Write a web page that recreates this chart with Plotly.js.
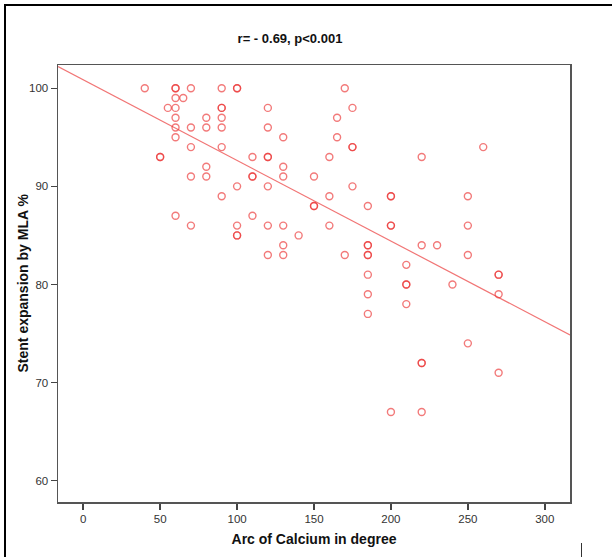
<!DOCTYPE html>
<html>
<head>
<meta charset="utf-8">
<script src="https://cdn.plot.ly/plotly-3.0.1.min.js"></script>
<style>
  html, body { margin: 0; padding: 0; background: #fff; }
  #wrap { position: relative; width: 612px; height: 557px; overflow: hidden; }
  #chart { position: absolute; left: 0; top: 0; width: 612px; height: 557px; }
  .bl { position: absolute; background: #000; }
</style>
</head>
<body>
<div id="wrap">
  <div id="chart"></div>
  <div class="bl" style="left:4px; top:4px; width:2px; height:553px;"></div>
  <div class="bl" style="left:4px; top:4px; width:608px; height:2px;"></div>
  <div class="bl" style="left:581px; top:543px; width:1px; height:14px; background:#333;"></div>
</div>
<script>
// Arc of calcium (degrees) and stent expansion by MLA (%) for each lesion
const arcCalcium = [
  40, 60, 60, 70, 90, 100, 100, 170,
  60, 65,
  55, 60, 90, 90, 120, 175,
  60, 80, 90, 165,
  60, 70, 80, 90, 120,
  60, 130, 165,
  70, 90, 175, 175, 260,
  50, 50, 110, 120, 120, 160, 220,
  80, 130,
  70, 80, 110, 110, 130, 150,
  100, 120, 175,
  90, 160, 200, 200, 250,
  150, 150, 185,
  60, 110,
  70, 100, 120, 130, 160, 200, 200, 250,
  100, 100, 140,
  130, 185, 185, 220, 230,
  120, 130, 170, 185, 185, 250,
  210,
  185, 270, 270,
  210, 210, 240,
  185, 270,
  210,
  185,
  250,
  220, 220,
  270,
  200, 220
];
const stentExpansion = [
  100, 100, 100, 100, 100, 100, 100, 100,
  99, 99,
  98, 98, 98, 98, 98, 98,
  97, 97, 97, 97,
  96, 96, 96, 96, 96,
  95, 95, 95,
  94, 94, 94, 94, 94,
  93, 93, 93, 93, 93, 93, 93,
  92, 92,
  91, 91, 91, 91, 91, 91,
  90, 90, 90,
  89, 89, 89, 89, 89,
  88, 88, 88,
  87, 87,
  86, 86, 86, 86, 86, 86, 86, 86,
  85, 85, 85,
  84, 84, 84, 84, 84,
  83, 83, 83, 83, 83, 83,
  82,
  81, 81, 81,
  80, 80, 80,
  79, 79,
  78,
  77,
  74,
  72, 72,
  71,
  67, 67
];
const xTicks = [0, 50, 100, 150, 200, 250, 300];
const yTicks = [60, 70, 80, 90, 100];
const chartTitle = "r= - 0.69, p<0.001";
const xTitle = "Arc of Calcium in degree";
const yTitle = "Stent expansion by MLA %";

// least-squares fit computed from the data
const n = arcCalcium.length;
const mx = arcCalcium.reduce((a, b) => a + b, 0) / n;
const my = stentExpansion.reduce((a, b) => a + b, 0) / n;
let sxy = 0, sxx = 0;
for (let i = 0; i < n; i++) {
  sxy += (arcCalcium[i] - mx) * (stentExpansion[i] - my);
  sxx += (arcCalcium[i] - mx) ** 2;
}
const slope = sxy / sxx;
const intercept = my - slope * mx;

const xRange = [-16.4, 316.4];
const yRange = [57.83, 102.37];
const fitX = [xRange[0], xRange[1]];
const fitY = fitX.map(x => intercept + slope * x);

const font = "'Liberation Sans Narrow', 'Arial Narrow', 'Liberation Sans', Arial, sans-serif";

const traces = [
  {
    x: fitX, y: fitY, type: 'scatter', mode: 'lines',
    line: { color: 'rgba(240,110,110,0.95)', width: 1.2 },
    hoverinfo: 'skip'
  },
  {
    x: arcCalcium, y: stentExpansion, type: 'scatter', mode: 'markers',
    marker: { symbol: 'circle-open', size: 7, color: 'rgba(235,50,50,0.65)', line: { width: 1.4 } },
    hoverinfo: 'skip'
  }
];

const layout = {
  width: 612, height: 557,
  margin: { l: 58, r: 42, t: 65, b: 55, pad: 0 },
  paper_bgcolor: '#fff', plot_bgcolor: '#fff',
  showlegend: false,
  font: { family: font, color: '#333', size: 12 },
  title: {
    text: '<b>' + chartTitle + '</b>',
    font: { family: font, size: 13, color: '#111' },
    xref: 'container', yref: 'container', x: 290 / 612, y: 1 - 38 / 557,
    xanchor: 'center', yanchor: 'middle'
  },
  xaxis: {
    range: xRange, tickmode: 'array', tickvals: xTicks, ticktext: xTicks.map(String),
    ticks: 'outside', ticklen: 6, tickwidth: 1.5, tickcolor: '#444',
    showline: true, mirror: true, linecolor: '#555', linewidth: 1.5,
    showgrid: false, zeroline: false,
    tickfont: { family: font, size: 11.5, color: '#333' },
    title: { text: '<b>' + xTitle + '</b>', font: { family: font, size: 14, color: '#111' }, standoff: 10 }
  },
  yaxis: {
    range: yRange, tickmode: 'array', tickvals: yTicks, ticktext: yTicks.map(String),
    ticks: 'outside', ticklen: 6, tickwidth: 1.5, tickcolor: '#444',
    showline: true, mirror: true, linecolor: '#555', linewidth: 1.5,
    showgrid: false, zeroline: false,
    tickfont: { family: font, size: 11.5, color: '#333' }
  },
  annotations: [{
    text: '<b>' + yTitle + '</b>', textangle: -90,
    xref: 'paper', yref: 'paper', x: (22 - 58) / 512, y: 0.5,
    xanchor: 'center', yanchor: 'middle', showarrow: false,
    font: { family: font, size: 14, color: '#111' }
  }]
};

Plotly.newPlot('chart', traces, layout, { staticPlot: true, displayModeBar: false });
</script>
</body>
</html>
